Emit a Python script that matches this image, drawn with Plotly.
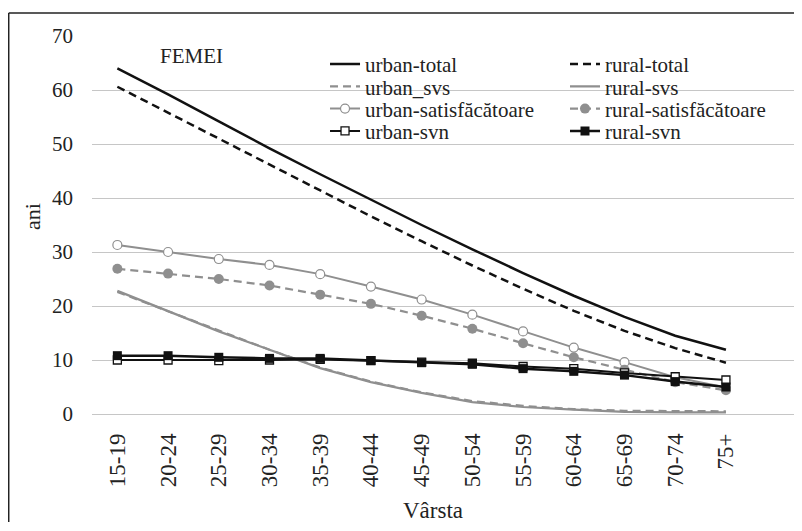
import plotly.graph_objects as go

# Age groups on the x axis
age_groups = ["15-19", "20-24", "25-29", "30-34", "35-39", "40-44", "45-49",
              "50-54", "55-59", "60-64", "65-69", "70-74", "75+"]

# Values (ani)
urban_total = [64.0, 59.2, 54.2, 49.2, 44.4, 39.7, 35.0, 30.5, 26.1, 21.9, 18.0, 14.5, 11.9]
rural_total = [60.6, 55.8, 50.9, 46.1, 41.3, 36.6, 32.0, 27.5, 23.2, 19.1, 15.4, 12.2, 9.5]
urban_svs = [22.6, 19.0, 15.4, 11.9, 8.6, 6.0, 4.0, 2.4, 1.5, 0.9, 0.6, 0.5, 0.5]
rural_svs = [22.8, 19.0, 15.3, 11.9, 8.5, 5.9, 3.9, 2.2, 1.3, 0.8, 0.4, 0.3, 0.3]
urban_satisf = [31.3, 30.0, 28.7, 27.6, 25.9, 23.6, 21.2, 18.4, 15.3, 12.3, 9.6, 6.8, 4.9]
rural_satisf = [26.9, 26.0, 25.0, 23.8, 22.1, 20.4, 18.2, 15.8, 13.1, 10.5, 8.2, 5.9, 4.4]
urban_svn = [10.0, 10.0, 9.9, 10.0, 10.1, 9.9, 9.6, 9.4, 8.8, 8.4, 7.6, 6.9, 6.3]
rural_svn = [10.8, 10.8, 10.5, 10.3, 10.3, 9.9, 9.5, 9.2, 8.4, 7.9, 7.2, 6.0, 5.0]

FONT = "Liberation Serif, serif"
GREY = "#8f8f8f"
BLACK = "#111111"
DASH = "8px,5px"

fig = go.Figure()

# (name, values, line style, marker style, legend id)
series = [
    ("urban-total", urban_total, dict(color=BLACK, width=2.5), None, "legend"),
    ("rural-total", rural_total, dict(color=BLACK, width=2.5, dash=DASH), None, "legend2"),
    ("urban_svs", urban_svs, dict(color=GREY, width=2.2, dash=DASH), None, "legend3"),
    ("rural-svs", rural_svs, dict(color=GREY, width=2.2), None, "legend4"),
    ("urban-satisfăcătoare", urban_satisf, dict(color=GREY, width=2),
     dict(symbol="circle", size=9, color="white", line=dict(color=GREY, width=1.2)), "legend5"),
    ("rural-satisfăcătoare", rural_satisf, dict(color=GREY, width=2.2, dash=DASH),
     dict(symbol="circle", size=10, color=GREY), "legend6"),
    ("urban-svn", urban_svn, dict(color=BLACK, width=2),
     dict(symbol="square", size=8, color="white", line=dict(color=BLACK, width=1.3)), "legend7"),
    ("rural-svn", rural_svn, dict(color=BLACK, width=2.5),
     dict(symbol="square", size=9, color=BLACK), "legend8"),
]

for name, vals, line, marker, leg in series:
    fig.add_trace(go.Scatter(
        x=age_groups, y=vals, name=name,
        mode="lines+markers" if marker else "lines",
        line=line, marker=marker, legend=leg,
    ))

# Legend: two columns, four rows, each entry its own legend for tight placement
row_y = [0.925, 0.866, 0.807, 0.748]
col_x = [0.3282, 0.6662]
legend_ids = ["legend", "legend2", "legend3", "legend4",
              "legend5", "legend6", "legend7", "legend8"]
legend_layout = {}
for i, lid in enumerate(legend_ids):
    legend_layout[lid] = dict(
        x=col_x[i % 2], y=row_y[i // 2], xanchor="left", yanchor="middle",
        bgcolor="rgba(0,0,0,0)", font=dict(family=FONT, size=21, color="#222"),
        itemclick=False, itemdoubleclick=False,
    )

# the page has an 8px body margin, so the figure is shifted and kept inside the window
fig.update_layout(
    width=794, height=514,
    margin=dict(l=84, r=0, t=28, b=108),
    paper_bgcolor="white", plot_bgcolor="white",
    font=dict(family=FONT, size=21, color="#222"),
    showlegend=True,
    **legend_layout,
    xaxis=dict(
        type="category", range=[-0.5, 13.5], automargin=False,
        showgrid=False, showline=False, zeroline=False,
        tickangle=-90, tickfont=dict(family=FONT, size=23, color="#222"),
        ticklabelstandoff=14,
    ),
    yaxis=dict(
        range=[0, 70], dtick=10, automargin=False,
        showgrid=True, gridcolor="#c6c6c6", gridwidth=1,
        zeroline=True, zerolinecolor="#c6c6c6", zerolinewidth=1,
        showline=False,
        tickfont=dict(family=FONT, size=21, color="#222"),
        ticklabelstandoff=18,
    ),
    annotations=[
        dict(text="FEMEI", x=0.1408, y=0.947, xref="paper", yref="paper",
             xanchor="center", yanchor="middle",
             showarrow=False, font=dict(family=FONT, size=21, color="#222")),
        dict(text="ani", x=-0.0845, y=0.521, xref="paper", yref="paper",
             xanchor="center", yanchor="middle",
             textangle=-90, showarrow=False, font=dict(family=FONT, size=22, color="#222")),
        dict(text="Vârsta", x=0.48, y=-0.255, xref="paper", yref="paper",
             xanchor="center", yanchor="middle",
             showarrow=False, font=dict(family=FONT, size=23, color="#222")),
    ],
    shapes=[
        # chart frame: only the left and top edges are inside the picture
        dict(type="line", xref="paper", yref="paper",
             x0=-0.1173, x1=-0.1173, y0=-0.4, y1=1.061,
             line=dict(color="#222", width=1.5), layer="above"),
        dict(type="line", xref="paper", yref="paper",
             x0=-0.1173, x1=1.1, y0=1.061, y1=1.061,
             line=dict(color="#222", width=1.5), layer="above"),
    ],
)

fig.write_html("out.html")
